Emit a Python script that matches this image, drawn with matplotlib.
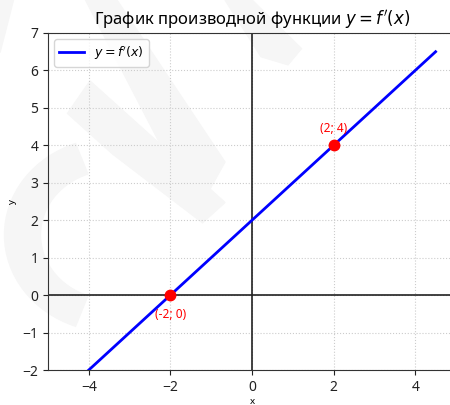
import matplotlib
matplotlib.use("Agg")
import matplotlib.pyplot as plt
from matplotlib.patches import Polygon, Wedge

plt.rcParams['font.family'] = ['Noto Sans', 'DejaVu Sans']
plt.rcParams['mathtext.fontset'] = 'dejavusans'

# data
line_x = [-4, 4.5]
line_y = [-2, 6.5]
pts_x = [-2, 2]
pts_y = [0, 4]
pt_labels = ["(-2; 0)", "(2; 4)"]
pt_offsets = [(0, -14), (0, 12)]
xticks = [-4, -2, 0, 2, 4]
yticks = [-2, -1, 0, 1, 2, 3, 4, 5, 6, 7]

fig = plt.figure(figsize=(4.5, 4.05), dpi=100)

# faint watermark shapes in the background
wm = '#f6f6f6'
shapes = [
    Polygon([[0.0, 1.0], [0.03, 1.0], [0.0, 0.87]], closed=True),
    Polygon([[0.19, 1.0], [0.26, 1.0], [0.50, 0.60], [0.46, 0.52], [0.40, 0.55]], closed=True),
    Polygon([[0.50, 1.0], [0.56, 1.0], [0.67, 0.88], [0.64, 0.84], [0.58, 0.86]], closed=True),
    Polygon([[0.20, 0.80], [0.30, 0.70], [0.50, 0.50], [0.45, 0.45], [0.25, 0.62], [0.15, 0.72]], closed=True),
    Wedge((0.25, 0.42), 0.24, 110, 250, width=0.08),
]
for s in shapes:
    s.set_transform(fig.transFigure)
    s.set_color(wm)
    s.set_zorder(-5)
    fig.patches.append(s)

ax = fig.add_axes([48/450, 1-370/405, 408/450, 337/405])
ax.set_zorder(1)
ax.patch.set_alpha(0)
ax.set_axisbelow(True)

ax.grid(True, linestyle=':', color='#cccccc', linewidth=0.8)
ax.axhline(0, color='#222222', linewidth=1.2, zorder=2)
ax.axvline(0, color='#222222', linewidth=1.2, zorder=2)

ax.plot(line_x, line_y, color='blue', linewidth=2, label="$y = f'(x)$", zorder=3)
ax.plot(pts_x, pts_y, 'o', color='red', markersize=7.5, zorder=4)
for x, y, t, off in zip(pts_x, pts_y, pt_labels, pt_offsets):
    ax.annotate(t, (x, y), xytext=off, textcoords='offset points', ha='center',
                va='center', color='red', fontsize=8.5)

ax.set_xlim(-5, 5)
ax.set_ylim(-2, 7)
ax.set_xticks(xticks)
ax.set_yticks(yticks)
ax.set_xticklabels([str(v).replace('-', '\u2212') for v in xticks])
ax.set_yticklabels([str(v).replace('-', '\u2212') for v in yticks])
ax.tick_params(labelsize=10, colors='#222222')
for s in ax.spines.values():
    s.set_color('#333333')

ax.set_xlabel('x', fontsize=7, labelpad=2)
ax.set_ylabel('y', fontsize=7)
ax.set_title("График производной функции $y = f'(x)$", fontsize=12)
ax.legend(loc='upper left', fontsize=9)

fig.savefig('out.png', dpi=100)
